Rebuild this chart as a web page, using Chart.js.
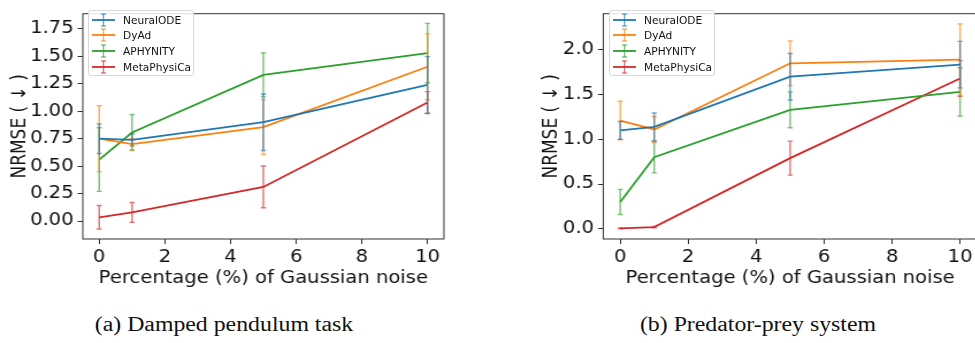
<!doctype html>
<html lang="en">
  <head>
    <title>NRMSE vs Gaussian noise</title>
    <style>
      html,
      body {
        margin: 0;
        padding: 0;
        background: #ffffff;
        width: 975px;
        height: 343px;
        overflow: hidden;
        font-family: "DejaVu Sans", sans-serif;
      }

      /* the source figure is stretched horizontally */
      .panel {
        position: absolute;
        top: 0;
        transform: scaleX(1.15);
        transform-origin: 0 0;
      }

      .legend {
        position: absolute;
        top: 10px;
        width: 106px;
        height: 66px;
        box-sizing: border-box;
        border: 1px solid #d8d8d8;
        border-radius: 3px;
        background: rgba(255, 255, 255, 0.85);
        font-size: 10.6px;
        color: #111;
      }

      .legend-row {
        position: absolute;
        left: 3px;
        height: 14px;
        display: flex;
        align-items: center;
        white-space: nowrap;
      }

      .legend-row svg {
        margin-right: 8px;
      }

      .caption {
        position: absolute;
        top: 313px;
        font-family: "Liberation Serif", "Times New Roman", serif;
        font-size: 20px;
        color: #111;
        white-space: nowrap;
        transform: translateX(-50%) scaleX(1.19);
      }
    </style>
  </head>

  <body>
    <div class="panel" style="left: 0px">
      <canvas id="pendulumChart" width="400" height="290"></canvas>
    </div>
    <div class="legend" id="pendulumLegend" style="left: 88px"></div>

    <div class="panel" style="left: 520px">
      <canvas id="preyChart" width="420" height="290"></canvas>
    </div>
    <div class="legend" id="preyLegend" style="left: 609px"></div>

    <div class="caption" style="left: 224px">(a) Damped pendulum task</div>
    <div class="caption" style="left: 758px">(b) Predator-prey system</div>

    <script src="https://cdn.jsdelivr.net/npm/chart.js@4.4.1/dist/chart.umd.min.js"></script>
    <script type="text/javascript">
      // Noise levels on the x axis
      const noiseLevels = [0, 1, 5, 10];
      const seriesNames = ["NeuralODE", "DyAd", "APHYNITY", "MetaPhysiCa"];
      const seriesColors = ["#1f77b4", "#ff7f0e", "#2ca02c", "#d62728"];

      // (a) Damped pendulum: mean NRMSE and error (+/-)
      const pendulumNeuralODE = [0.75, 0.74, 0.9, 1.24];
      const pendulumNeuralODEErr = [0.135, 0.055, 0.257, 0.258];
      const pendulumDyAd = [0.75, 0.7, 0.856, 1.405];
      const pendulumDyAdErr = [0.3, 0.05, 0.25, 0.3];
      const pendulumAphynity = [0.56, 0.806, 1.331, 1.53];
      const pendulumAphynityErr = [0.29, 0.165, 0.2, 0.27];
      const pendulumMeta = [0.034, 0.079, 0.311, 1.079];
      const pendulumMetaErr = [0.107, 0.09, 0.19, 0.1];

      // (b) Predator-prey: mean NRMSE and error (+/-)
      const preyNeuralODE = [1.1, 1.14, 1.7, 1.835];
      const preyNeuralODEErr = [0.1, 0.155, 0.26, 0.26];
      const preyDyAd = [1.21, 1.11, 1.85, 1.89];
      const preyDyAdErr = [0.215, 0.145, 0.25, 0.4];
      const preyAphynity = [0.3, 0.8, 1.33, 1.53];
      const preyAphynityErr = [0.14, 0.175, 0.2, 0.27];
      const preyMeta = [0.005, 0.018, 0.79, 1.68];
      const preyMetaErr = [0.005, 0.008, 0.19, 0.2];

      // Tick labels
      const xTicks = [0, 2, 4, 6, 8, 10];
      const pendulumYTicks = [0, 0.25, 0.5, 0.75, 1.0, 1.25, 1.5, 1.75];
      const preyYTicks = [0, 0.5, 1.0, 1.5, 2.0];

      const yTitle = "NRMSE ( \u2193 )";
      const xTitle = "Percentage (%) of Gaussian noise";

      function hexToRgba(hex, alpha) {
        hex = hex.replace("#", "");
        const r = parseInt(hex.substring(0, 2), 16);
        const g = parseInt(hex.substring(2, 4), 16);
        const b = parseInt(hex.substring(4, 6), 16);
        return `rgba(${r}, ${g}, ${b}, ${alpha})`;
      }

      // Error bars drawn with the chart's own scales
      const errorBarPlugin = {
        id: "errorBars",
        afterDatasetDraw(chart, args) {
          const ds = chart.data.datasets[args.index];
          if (!ds.errors) return;
          const { ctx } = chart;
          const xs = chart.scales.x;
          const ys = chart.scales.y;
          ctx.save();
          ctx.strokeStyle = hexToRgba(ds.borderColor, 0.65);
          ctx.lineWidth = 1.4;
          ds.data.forEach((pt, i) => {
            const err = ds.errors[i];
            const px = xs.getPixelForValue(pt.x);
            const top = ys.getPixelForValue(pt.y + err);
            const bot = ys.getPixelForValue(pt.y - err);
            ctx.beginPath();
            ctx.moveTo(px, top);
            ctx.lineTo(px, bot);
            ctx.moveTo(px - 2.2, top);
            ctx.lineTo(px + 2.2, top);
            ctx.moveTo(px - 2.2, bot);
            ctx.lineTo(px + 2.2, bot);
            ctx.stroke();
          });
          ctx.restore();
        },
      };

      // Full box around the plot area
      const framePlugin = {
        id: "frame",
        afterDraw(chart) {
          const { ctx, chartArea: a } = chart;
          ctx.save();
          ctx.strokeStyle = "#333333";
          ctx.lineWidth = 1;
          ctx.strokeRect(a.left, a.top, a.right - a.left, a.bottom - a.top);
          ctx.restore();
        },
      };

      function makeDatasets(means, errs) {
        return means.map((vals, s) => ({
          label: seriesNames[s],
          data: noiseLevels.map((x, i) => ({ x: x, y: vals[i] })),
          errors: errs[s],
          borderColor: seriesColors[s],
          backgroundColor: seriesColors[s],
          borderWidth: 1.8,
          pointRadius: 0,
          tension: 0,
          fill: false,
        }));
      }

      function makeChart(canvasId, means, errs, yMin, yMax, yTicks, digits, axisWidth, padRight, titlePad) {
        const ctx = document.getElementById(canvasId).getContext("2d");
        return new Chart(ctx, {
          type: "line",
          data: { datasets: makeDatasets(means, errs) },
          plugins: [errorBarPlugin, framePlugin],
          options: {
            responsive: false,
            animation: false,
            layout: { padding: { top: 5, right: padRight, left: 0, bottom: 0 } },
            plugins: {
              legend: { display: false },
              tooltip: { enabled: false },
            },
            scales: {
              x: {
                type: "linear",
                min: -0.5,
                max: 10.5,
                afterBuildTicks: (scale) => {
                  scale.ticks = xTicks.map((v) => ({ value: v }));
                },
                afterFit: (scale) => {
                  scale.height = 51;
                },
                border: { display: false },
                grid: {
                  drawOnChartArea: false,
                  drawTicks: true,
                  tickLength: 5,
                  color: "#333333",
                },
                ticks: {
                  padding: 3,
                  color: "#111111",
                  font: { family: "DejaVu Sans", size: 17 },
                  maxRotation: 0,
                },
                title: {
                  display: true,
                  text: xTitle,
                  color: "#111111",
                  font: { family: "DejaVu Sans", size: 17 },
                  padding: { top: 0, bottom: 1 },
                },
              },
              y: {
                min: yMin,
                max: yMax,
                afterBuildTicks: (scale) => {
                  scale.ticks = yTicks.map((v) => ({ value: v }));
                },
                afterFit: (scale) => {
                  scale.width = axisWidth;
                },
                border: { display: false },
                grid: {
                  drawOnChartArea: false,
                  drawTicks: true,
                  tickLength: 4.5,
                  color: "#333333",
                },
                ticks: {
                  padding: 3.5,
                  color: "#111111",
                  font: { family: "DejaVu Sans", size: 17 },
                  callback: (v) => Number(v).toFixed(digits),
                },
                title: {
                  display: true,
                  text: yTitle,
                  color: "#111111",
                  font: { family: "DejaVu Sans", size: 17 },
                  padding: { top: titlePad, bottom: 0 },
                },
              },
            },
          },
        });
      }

      function buildLegend(id) {
        const box = document.getElementById(id);
        seriesNames.forEach((name, s) => {
          const c = seriesColors[s];
          const row = document.createElement("div");
          row.className = "legend-row";
          row.style.top = 1.7 + s * 15.7 + "px";
          row.innerHTML =
            `<svg width="23" height="14" viewBox="0 0 23 14">` +
            `<line x1="0" y1="7" x2="23" y2="7" stroke="${c}" stroke-width="1.8"/>` +
            `<g stroke="${c}" stroke-opacity="0.6" stroke-width="1.5">` +
            `<line x1="11.5" y1="1" x2="11.5" y2="13"/>` +
            `<line x1="9" y1="1" x2="14" y2="1"/>` +
            `<line x1="9" y1="13" x2="14" y2="13"/></g></svg>` +
            `<span>${name}</span>`;
          box.appendChild(row);
        });
      }

      makeChart(
        "pendulumChart",
        [pendulumNeuralODE, pendulumDyAd, pendulumAphynity, pendulumMeta],
        [pendulumNeuralODEErr, pendulumDyAdErr, pendulumAphynityErr, pendulumMetaErr],
        -0.1635,
        1.8885,
        pendulumYTicks,
        2,
        72,
        14,
        7,
      );

      makeChart(
        "preyChart",
        [preyNeuralODE, preyDyAd, preyAphynity, preyMeta],
        [preyNeuralODEErr, preyDyAdErr, preyAphynityErr, preyMetaErr],
        -0.1145,
        2.4045,
        preyYTicks,
        1,
        72.4,
        22.6,
        17.5,
      );

      buildLegend("pendulumLegend");
      buildLegend("preyLegend");
    </script>
  </body>
</html>
